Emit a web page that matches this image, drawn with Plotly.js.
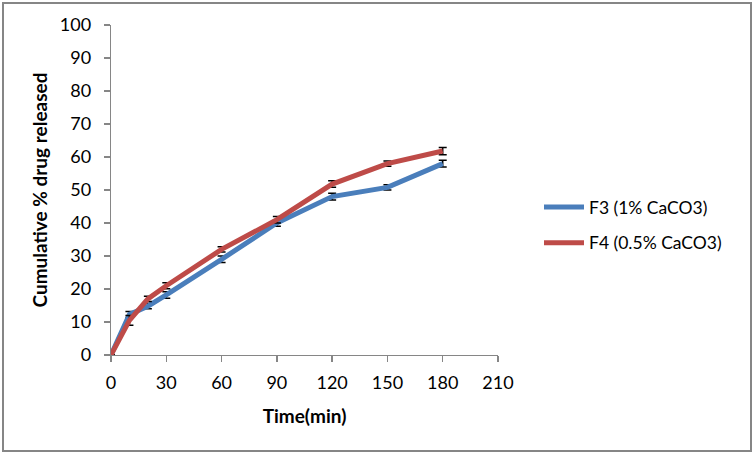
<!DOCTYPE html>
<html>
<head>
<meta charset="utf-8">
<script src="https://cdn.plot.ly/plotly-3.0.1.min.js"></script>
<style>
html,body{margin:0;padding:0;background:#fff;}
#chart{width:754px;height:454px;}
</style>
</head>
<body>
<div id="chart"></div>
<script>
const timeMin = [0, 10, 20, 30, 60, 90, 120, 150, 180];
const f3Values = [0, 12.3, 14.8, 18.2, 29, 40, 48, 50.8, 58];
const f3Errors = [0, 0.9, 0.8, 1.0, 1.0, 1.0, 1.0, 0.8, 1.0];
const f4Values = [0, 10.5, 17, 21, 32, 41, 51.8, 58, 61.8];
const f4Errors = [0, 1.5, 0.8, 0.9, 0.8, 1.0, 1.0, 0.8, 1.1];
const seriesNames = ['F3 (1% CaCO3)', 'F4 (0.5% CaCO3)'];
const xTicks = [0, 30, 60, 90, 120, 150, 180, 210];
const yTicks = [0, 10, 20, 30, 40, 50, 60, 70, 80, 90, 100];

const FONT = 'Lato, "Open Sans", sans-serif';
const errStyle = {type: 'data', visible: true, color: '#000000', thickness: 1.5, width: 4};

const traces = [
  {x: timeMin, y: f3Values, name: seriesNames[0], type: 'scatter', mode: 'lines',
   line: {color: '#4A7EBB', width: 5}, legendgroup: 'a',
   error_y: Object.assign({array: f3Errors}, errStyle)},
  {x: timeMin, y: f4Values, name: seriesNames[1], type: 'scatter', mode: 'lines',
   line: {color: '#BE4B48', width: 5}, legendgroup: 'b',
   error_y: Object.assign({array: f4Errors}, errStyle)}
];

const L = 111, R = 256, T = 25, B = 99;
const W = 754, H = 454;
const pw = W - L - R, ph = H - T - B;
function px2x(p){ return (p - L) / pw; }
function py2y(p){ return (H - B - p) / ph; }

const layout = {
  width: W, height: H,
  margin: {l: L, r: R, t: T, b: B, pad: 0},
  paper_bgcolor: '#ffffff', plot_bgcolor: '#ffffff',
  font: {family: FONT, size: 18, color: '#000000'},
  showlegend: true,
  legend: {x: px2x(539), y: py2y(189), xanchor: 'left', yanchor: 'top',
           traceorder: 'grouped', tracegroupgap: 10, itemwidth: 40,
           font: {family: FONT, size: 17.5, color: '#000'}, bgcolor: 'rgba(0,0,0,0)'},
  xaxis: {
    range: [0, 210], tickvals: xTicks, ticktext: xTicks.map(String),
    showgrid: false, zeroline: false, showline: true, linecolor: '#868686', linewidth: 1.3,
    ticks: 'outside', ticklen: 6, tickcolor: '#868686', tickwidth: 1.3,
    ticklabelstandoff: 5,
    tickfont: {family: FONT, size: 18},
    title: {text: '<b>Time(min)</b>', font: {family: FONT, size: 19}, standoff: 17}
  },
  yaxis: {
    range: [0, 100], tickvals: yTicks, ticktext: yTicks.map(String),
    showgrid: false, zeroline: false, showline: true, linecolor: '#868686', linewidth: 1.3,
    ticks: 'outside', ticklen: 6, tickcolor: '#868686', tickwidth: 1.3,
    ticklabelstandoff: 9,
    tickfont: {family: FONT, size: 18},
    title: {text: '<b>Cumulative % drug released</b>', font: {family: FONT, size: 19}, standoff: 7}
  },
  shapes: [{
    type: 'rect', xref: 'paper', yref: 'paper', layer: 'below',
    x0: px2x(3), x1: px2x(751), y0: py2y(451), y1: py2y(3),
    line: {color: '#868686', width: 2}, fillcolor: 'rgba(0,0,0,0)'
  }]
};

Plotly.newPlot('chart', traces, layout, {displayModeBar: false, staticPlot: true});
</script>
</body>
</html>
